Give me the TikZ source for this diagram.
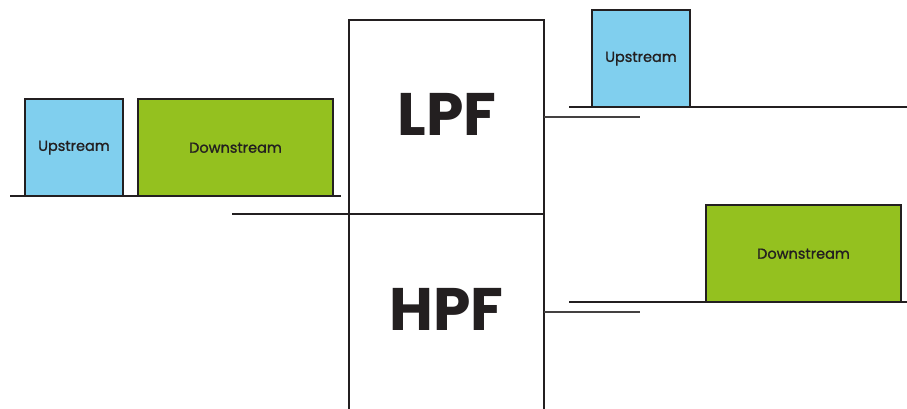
\documentclass[tikz,border=0pt]{standalone}
\usepackage{fontspec}
\setmainfont{Poppins}
\newfontfamily\medfont{Poppins}[FakeBold=1.1]
\begin{document}
\begin{tikzpicture}[x=1pt,y=-1pt,
  ln/.style={draw=inkc,line width=2pt},
  thin/.style={draw=inkc!85,line width=1.6pt},
  box/.style={draw=inkc,line width=2pt,inner sep=0pt,outer sep=0pt,anchor=south west},
  up/.style={box,fill=upc,minimum width=98pt,minimum height=97pt},
  down/.style={box,fill=downc,minimum width=195pt,minimum height=97pt},
  lbl/.style={font=\medfont\fontsize{14.5}{16}\selectfont\color{inkc},inner sep=0pt},
  filt/.style={draw=inkc,line width=2pt,inner sep=0pt,outer sep=0pt,anchor=north west,minimum width=195pt},
  big/.style={font=\fontsize{60}{60}\selectfont\bfseries\color{inkc},inner sep=0pt}
]
\definecolor{inkc}{HTML}{231F20}
\definecolor{upc}{HTML}{80CFEE}
\definecolor{downc}{HTML}{94C11F}
\clip (0,0) rectangle (907,408);
\fill[white] (0,0) rectangle (907,408);
% left side
\coordinate (lb1) at (10,196);
\coordinate (lb2) at (341,196);
\draw[ln] (lb1) -- (lb2);
\node[up] (lup) at (25,196) {};
\node[lbl] at ([yshift=-0.2pt]lup.center) {Upstream};
\node[down] (ldown) at (138,196) {};
\node[lbl] at ([yshift=-0.2pt]ldown.center) {Downstream};
% filters
\node[filt,minimum height=194pt] (lpf) at (349,20) {};
\node[big] (lpft) at (447,114) {LPF};
\node[filt,minimum height=210pt] (hpf) at (349,214) {};
\node[big] (hpft) at (446.5,309) {HPF};
\coordinate (in) at (232,214);
\draw[ln] (in) -- (lpf.south west);
\coordinate (lo) at (640,117);
\coordinate (ho) at (640,312);
\draw[thin] (lpf.east |- lo) -- (lo);
\draw[thin] (hpf.east |- ho) -- (ho);
% right side
\coordinate (rb1) at (569,107);
\coordinate (rb2) at (907,107);
\draw[ln] (rb1) -- (rb2);
\node[up] (rup) at (592,107) {};
\node[lbl] at ([yshift=-0.2pt]rup.center) {Upstream};
\coordinate (rb3) at (569,302);
\coordinate (rb4) at (907,302);
\draw[ln] (rb3) -- (rb4);
\node[down] (rdown) at (706,302) {};
\node[lbl] at ([yshift=-0.2pt]rdown.center) {Downstream};
\end{tikzpicture}
\end{document}
